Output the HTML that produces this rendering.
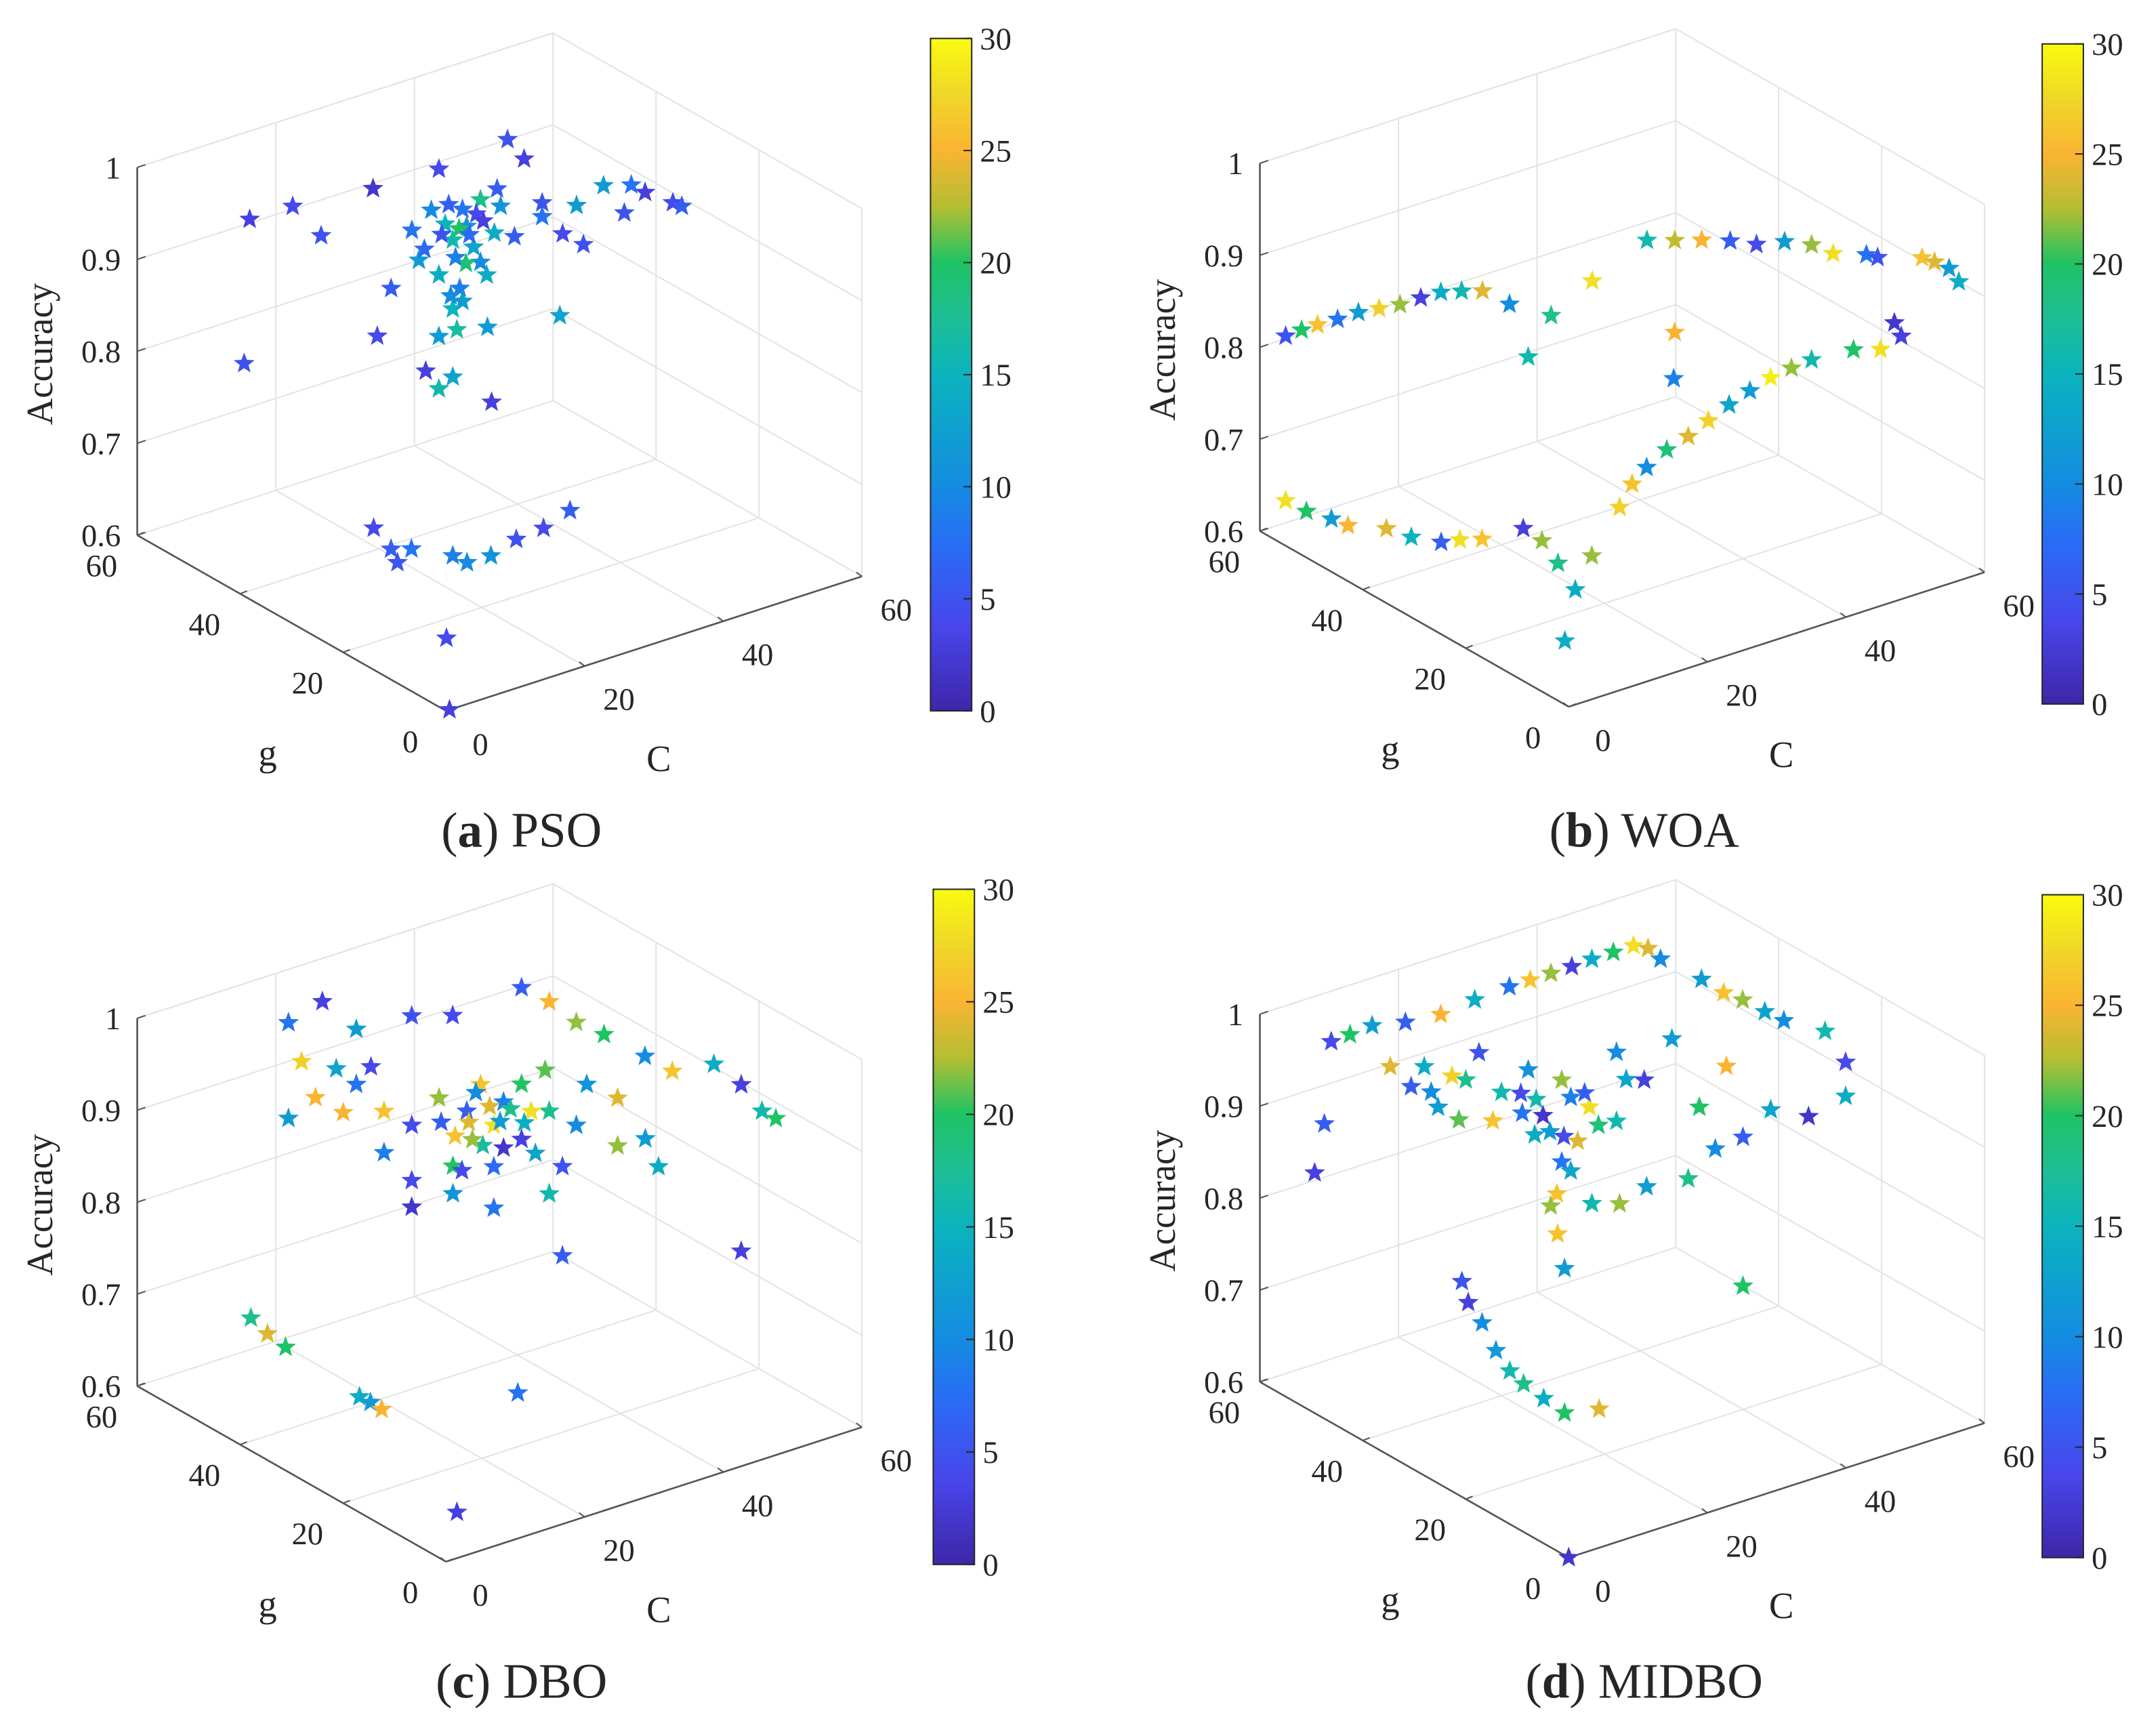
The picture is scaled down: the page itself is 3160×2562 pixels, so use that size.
<!DOCTYPE html>
<html><head><meta charset="utf-8"><style>
html,body{margin:0;padding:0;background:#fff;}
svg{display:block;}
text{font-family:"Liberation Serif",serif;fill:#262626;}
</style></head><body>
<svg id="fig" width="3160" height="2562" viewBox="0 0 1560 1265" preserveAspectRatio="none" xmlns="http://www.w3.org/2000/svg" font-family="Liberation Serif, serif">
<defs>
<linearGradient id="parula" x1="0" y1="1" x2="0" y2="0">
<stop offset="0" stop-color="rgb(62,38,168)"/><stop offset="0.125" stop-color="rgb(72,70,235)"/><stop offset="0.25" stop-color="rgb(40,110,245)"/><stop offset="0.333" stop-color="rgb(20,140,225)"/><stop offset="0.5" stop-color="rgb(10,180,190)"/><stop offset="0.583" stop-color="rgb(30,190,150)"/><stop offset="0.667" stop-color="rgb(30,195,100)"/><stop offset="0.75" stop-color="rgb(180,190,50)"/><stop offset="0.833" stop-color="rgb(250,180,50)"/><stop offset="0.917" stop-color="rgb(240,215,40)"/><stop offset="1" stop-color="rgb(249,251,14)"/>
</linearGradient>
</defs>
</svg>
<script>
const zTicks=[0.6,0.7,0.8,0.9,1];
const zTickLabels=["0.6","0.7","0.8","0.9","1"];
const cgTicks=[0,20,40,60];
const cgTickLabels=["0","20","40","60"];
const cbTicks=[0,5,10,15,20,25,30];
const panelTitles=["PSO","WOA","DBO","MIDBO"];
const panelLetters=["a","b","c","d"];
// [C, g, accuracy, iteration]
const pointsA=[[8.8,50,.954,3],[15,50,.953,4],[19.1,50,.911,5],[26.6,50,.944,2],[36.1,50,.942,4],[46,50,.95,5],[48.4,50,.923,3],
[32.2,50,.885,8],[33.2,50,.85,12],[36.1,50,.827,14],[38.1,50,.86,16],[40.1,50,.87,11],[42.1,50,.894,18],[41.1,50,.845,13],[39.1,50,.805,9],[38.1,50,.785,15],[38.7,50,.761,17],[36.1,50,.76,12],[42.1,50,.826,10],[44.1,50,.853,14],[47,50,.842,6],[51,50,.854,8],[51,50,.869,5],[29.2,50,.829,6],[27.2,50,.782,4],[34.2,50,.727,3],[36.1,50,.703,16],[38.1,50,.711,13],[43.1,50,.753,12],[43.7,50,.67,3],[8,50,.799,5],
[39.1,30,.928,4],[41.1,30,.954,12],[42.1,30,.909,5],[45,30,.966,12],[49,30,.957,8],[51,30,.944,3],[55,30,.923,4],[56.3,30,.916,6],[48,30,.929,5],[38.7,30,.84,13],
[37,50,.88,15],[40,50,.83,19],[35,50,.9,10],[43,50,.81,14],[39,50,.87,20],[34,50,.86,7],[45,50,.88,11],
[37.5,50,.9,6],[39.5,50,.89,8],[41.5,50,.88,4],[38.5,50,.84,9],[36.5,50,.87,5],[40.5,50,.86,7],[42.5,50,.87,3],[44.5,50,.9,6],[37.8,50,.8,10],[39.5,50,.79,12],
[22.9,44.9,.6,4],[21.1,39.1,.6,6],[19.5,35.7,.6,5],[23,37.7,.6,8],[25.7,33.3,.6,9],[25.9,30.8,.6,10],[29.2,30.6,.6,11],[34.2,32.4,.6,5],[38.5,32.9,.6,4],[43.8,34.9,.6,6],[11.8,15.8,.6,4],[0.5,0,.6,3]];
const pointsB=[[0,55,.828,5],[4.6,55,.829,26],[10.5,55,.828,12],[16.5,55,.822,22],[22.4,55,.821,14],[28.4,55,.808,24],[32.3,55,.784,10],[38.3,55,.757,18],[33.1,40,.855,28],[41,40,.88,16],[48.9,40,.861,25],[56.8,40,.837,4],[49.9,20,.917,22],[57.8,20,.887,8],[54.7,5,.939,26],[58.6,5,.918,12],[51.7,5,.861,3],[48.7,5,.854,28],
[2.3,55,.829,20],[7.5,55,.828,8],[13.5,55,.825,27],[19.5,55,.822,3],[25.4,55,.815,16],[45,40,.87,23],[53,40,.85,6],[46,20,.93,12],[53,20,.9,28],[52,10,.93,5],[56.5,5,.93,24],[60,5,.9,14],
[35,55,.72,16],[45,40,.77,25],[30,20,.82,9],
[0,55,.649,28],[6.6,55,.613,12],[3.4,40,.658,24],[11.3,40,.624,6],[17.2,40,.613,26],[8.3,20,.71,3],[13.3,20,.66,18],[15.8,20,.625,14],[18.2,20,.656,22],[22.2,20,.699,27],[26.1,20,.733,10],[32.1,20,.752,24],[38,20,.772,13],[44,20,.787,29],[49.9,20,.792,16],[44.8,5,.863,20],[50.7,5,.878,2],[14.3,20,.573,14],
[3,55,.63,20],[9,55,.6,25],[7,40,.64,15],[14,40,.62,28],[11,20,.69,22],[24,20,.72,26],[29,20,.745,19],[35,20,.762,27],[41,20,.78,12],[47,20,.79,22]];
const pointsC=[[18.1,55,.967,8],[23,55,.978,3],[27.9,55,.936,12],[35.9,55,.931,5],[41.8,55,.917,4],[40.6,40,.998,6],[44.6,40,.973,25],[48.5,40,.941,22],[52.5,40,.918,20],[58.4,40,.88,10],[47.5,20,.954,26],[53.5,20,.947,14],[46.3,5,.99,3],[49.3,5,.954,16],[51.3,5,.941,20],
[18.1,55,.863,12],[22,55,.876,25],[27.9,55,.876,8],[31.9,55,.837,26],[35.9,55,.812,4],[28.7,40,.907,22],[32.7,40,.883,6],[36.6,40,.858,28],[40.6,40,.833,3],[44.6,40,.854,18],[48.5,40,.829,10],[39.6,20,.944,24],[43.6,20,.89,12],[31.9,55,.792,9],[35.9,55,.752,4],[30.7,40,.828,20],[36.6,40,.813,7],[42.6,40,.813,13],[46.5,40,.789,5],[35.9,55,.723,2],[30.7,40,.798,11],[36.6,40,.768,8],[44.6,40,.764,16],[39.6,20,.892,22],[45.5,20,.855,14],[34.7,40,.907,26],[40.6,40,.893,20],[46.3,5,.809,3],[46.5,40,.692,6],
[20,55,.92,27],[25,55,.9,13],[33,40,.87,24],[38,40,.88,9],[42,40,.86,28],[35,40,.84,17],[30,55,.89,4],[44,40,.9,21],[50,40,.87,11],[26,55,.85,25],
[31,40,.86,26],[33.5,40,.85,22],[36,40,.88,24],[37.5,40,.86,12],[39,40,.87,18],[34,40,.9,10],[29,40,.88,6],[32,40,.82,4],[38,40,.83,2],[41,40,.85,14],
[16.4,60,.634,18],[18.8,60,.611,24],[21.4,60,.59,20],[18.7,42,.6,14],[18.8,40,.6,12],[18.7,37.7,.6,25],[33.9,31.7,.6,8],[9,10,.6,3]];
const pointsD=[[10.3,60,.945,4],[16.2,60,.948,12],[26.1,60,.936,25],[36,60,.942,8],[42,60,.942,22],[47.9,60,.943,14],[53.9,60,.943,28],[57.8,60,.919,10],
[13,60,.946,20],[21,60,.94,6],[31,60,.94,14],[39,60,.942,26],[45,60,.942,3],[51,60,.943,20],[56,60,.935,24],
[58,52.3,.921,12],[58,44.3,.924,22],[58,36.3,.927,10],[58,28.3,.941,16],[58,24.3,.92,4],[58,24.3,.883,14],[58,31.5,.838,2],[58,48,.92,26],[58,40,.925,13],
[15.1,55,.922,24],[18.1,55,.893,6],[22,55,.861,12],[26,55,.881,18],[29.9,55,.827,26],[22.8,40,.922,4],[24.8,40,.872,14],[28.7,40,.922,22],[28.7,40,.833,8],[32.7,40,.883,28],[36.6,40,.933,10],[36.6,40,.858,16],[40.6,40,.893,3],[44.6,40,.928,12],[33.7,20,.944,20],[37.6,20,.979,25],[27.9,55,.906,5],[7.9,60,.808,3],[9.3,60,.858,6],
[20,55,.91,14],[24,55,.89,27],[30,40,.9,9],[34,40,.86,19],[26,40,.89,2],[31,40,.85,24],[38,40,.9,13],[20,40,.93,16],[35,55,.87,11],[25,55,.84,21],
[23,40,.9,8],[27,40,.87,12],[29,40,.86,4],[25,40,.91,16],[32,40,.9,6],[28,40,.8,26],[30,40,.82,13],[21,55,.88,10],
[27.1,40,.789,22],[28.1,40,.756,26],[29.1,40,.716,12],
[32.1,20,.87,18],[36,20,.893,10],[40,20,.896,6],[44,20,.916,13],[26.1,20,.876,12],[22.2,20,.867,22],[18.2,20,.877,16],[40,20,.734,20],
[14.3,40,.738,5],[15.2,40,.713,3],[17.2,40,.686,10],[19.2,40,.651,12],[21.2,40,.624,16],[23.2,40,.605,18],[26.1,40,.582,14],[29.1,40,.559,20],[34.1,40,.551,24],[0,0,.6,2]];

const allPoints=[pointsA,pointsB,pointsC,pointsD];
const offsets=[[0,0],[818,-3],[0,620],[818,617]];
const cbars=[[678,28,518],[1488,32,513],[680,648,1140],[1488,652,1135]];
const NS="http://www.w3.org/2000/svg";
const FONT="Liberation Serif, serif";
const svg=document.getElementById('fig');
const stopPos=[0,.125,.25,.333,.5,.583,.667,.75,.833,.917,1];
const stopCol=[[62,38,168],[72,70,235],[40,110,245],[20,140,225],[10,180,190],[30,190,150],[30,195,100],[180,190,50],[250,180,50],[240,215,40],[249,251,14]];
function parula(v){const t=Math.max(0,Math.min(1,v/30));let i=0;while(i<stopPos.length-2&&t>stopPos[i+1])i++;const f=(t-stopPos[i])/(stopPos[i+1]-stopPos[i]);const a=stopCol[i],b=stopCol[i+1];return `rgb(${Math.round(a[0]+(b[0]-a[0])*f)},${Math.round(a[1]+(b[1]-a[1])*f)},${Math.round(a[2]+(b[2]-a[2])*f)})`;}
function P(o,C,g,z){return [o[0]+325+C*303/60-g*225/60, o[1]+518-C*98/60-g*128/60-(z-0.6)*670];}
function el(tag,attrs,parent){const e=document.createElementNS(NS,tag);for(const k in attrs)e.setAttribute(k,attrs[k]);(parent||svg).appendChild(e);return e;}
function line(p,q,color,w,parent,name){const e=el('line',{x1:p[0],y1:p[1],x2:q[0],y2:q[1],stroke:color,'stroke-width':w},parent);


return e;}
function txt(x,y,s,size,anchor,parent,name,extra){const e=el('text',Object.assign({x:x,y:y,'font-size':size,'text-anchor':anchor,'font-family':FONT},extra||{}),parent);e.textContent=s;


return e;}
function starPath(cx,cy,r){let d='';for(let i=0;i<10;i++){const a=(-90+36*i)*Math.PI/180;const rr=i%2?r*0.42:r;d+=(i?'L':'M')+(cx+rr*Math.cos(a)).toFixed(1)+' '+(cy+rr*Math.sin(a)).toFixed(1);}return d+'Z';}

for(let k=0;k<4;k++){
  const o=offsets[k];
  const g=el('g',{});
  
  
  const grid='#e3e3e3';
  zTicks.forEach(z=>{ if(z>0.6){line(P(o,0,60,z),P(o,60,60,z),grid,1,g,'gridline-z');line(P(o,60,60,z),P(o,60,0,z),grid,1,g,'gridline-z');}});
  [20,40].forEach(v=>{
    line(P(o,v,60,.6),P(o,v,60,1),grid,1,g,'gridline-c');
    line(P(o,v,0,.6),P(o,v,60,.6),grid,1,g,'gridline-c');
    line(P(o,60,v,.6),P(o,60,v,1),grid,1,g,'gridline-g');
    line(P(o,0,v,.6),P(o,60,v,.6),grid,1,g,'gridline-g');
  });
  line(P(o,60,60,.6),P(o,60,60,1),grid,1,g,'back-edge');
  line(P(o,60,0,.6),P(o,60,0,1),grid,1,g,'back-edge');
  line(P(o,0,60,.6),P(o,60,60,.6),grid,1,g,'back-edge');
  line(P(o,60,60,.6),P(o,60,0,.6),grid,1,g,'back-edge');
  line(P(o,0,60,1),P(o,60,60,1),grid,1,g,'back-edge');
  const ax='#555';
  line(P(o,0,60,.6),P(o,0,60,1),ax,1.3,g,'z-axis');
  line(P(o,0,0,.6),P(o,0,60,.6),ax,1.3,g,'g-axis');
  line(P(o,0,0,.6),P(o,60,0,.6),ax,1.3,g,'c-axis');
  zTicks.forEach((z,i)=>{const p=P(o,0,60,z);line(p,[p[0]+6,p[1]-2],ax,1,g,'z-tick');txt(p[0]-12,p[1]+8,zTickLabels[i],23,'end',g,'z-tick-label');});
  cgTicks.forEach((v,i)=>{const p=P(o,0,v,.6);line(p,[p[0]+5,p[1]-2],ax,1,g,'g-tick');txt(p[0]-26,p[1]+30,cgTickLabels[i],23,'middle',g,'g-tick-label');
    const q=P(o,v,0,.6);line(q,[q[0]-4,q[1]-3],ax,1,g,'c-tick');txt(q[0]+25,q[1]+32,cgTickLabels[i],23,'middle',g,'c-tick-label');});
  txt(o[0]+195,o[1]+558,'g',27,'middle',g,'g-axis-title');
  txt(o[0]+480,o[1]+562,'C',27,'middle',g,'c-axis-title');
  txt(0,0,'Accuracy',27,'middle',g,'z-axis-title',{transform:`translate(${o[0]+38},${o[1]+258}) rotate(-90)`});
  allPoints[k].forEach(pt=>{const p=P(o,pt[0],pt[1],pt[2]);const s=el('path',{d:starPath(p[0],p[1],8),fill:parula(pt[3])},g);
    
    });
  const cb=cbars[k];
  const r=el('rect',{x:cb[0],y:cb[1],width:30,height:cb[2]-cb[1],fill:'url(#parula)',stroke:'#262626','stroke-width':1},g);
  
  
  cbTicks.forEach(v=>{const y=cb[2]-(cb[2]-cb[1])*v/30;line([cb[0]+30,y],[cb[0]+24,y],'#262626',1,g,'colorbar-tick');txt(cb[0]+36,y+8,String(v),23,'start',g,'colorbar-tick-label');});
  const cx=o[0]+380, cy=(k<2?605:1225);
  const t=el('text',{x:cx,y:cy+12,'font-size':36,'text-anchor':'middle','font-family':FONT},g);
  
  
  t.appendChild(document.createTextNode('('));
  const b=el('tspan',{'font-weight':'bold'},t);b.textContent=panelLetters[k];
  t.appendChild(document.createTextNode(') '+panelTitles[k]));
}
</script>
</body></html>
